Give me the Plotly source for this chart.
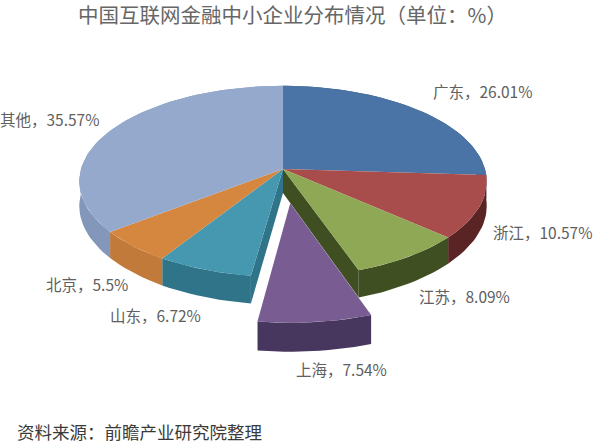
import math
import plotly.graph_objects as go

# Données
regions = ['广东', '浙江', '江苏', '上海', '山东', '北京', '其他']
parts = [26.01, 10.57, 8.09, 7.54, 6.72, 5.5, 35.57]
explose = '上海'

couleurs = ['#4b74a6', '#a94d4c', '#8fa855', '#785c92', '#4598af', '#d6873f', '#94a9cc']
couleurs_flanc = ['#35527a', '#5a2424', '#3f4f22', '#47375f', '#2f7488', '#c27a3b', '#8397ba']
pos_labels = [(483, 91), (543, 232), (464, 296), (341, 369), (155, 315), (87, 284), (50, 119)]

# Projection en perspective du disque (pixels de l'image)
CX, CY, RX, RY, K, EP = 283, 169, 202, 94, 0.13, 24
ECART = 0.35


def proj(x, y):
    s = 1 / (1 + K * y)
    return CX + RX * x * s, CY - RY * y * s, s


def contour(a0, a1, dx, dy):
    n = max(2, int((a1 - a0) / 2))
    pts = []
    for i in range(n + 1):
        a = math.radians(a0 + (a1 - a0) * i / n)
        pts.append(proj(math.sin(a) + dx, math.cos(a) + dy))
    return pts


def poly(fig, pts, couleur):
    xs = [p[0] for p in pts] + [pts[0][0]]
    ys = [p[1] for p in pts] + [pts[0][1]]
    fig.add_trace(go.Scatter(x=xs, y=ys, mode='lines', fill='toself', fillcolor=couleur,
                             line=dict(width=0, color=couleur), hoverinfo='skip', showlegend=False))


def bas(p):
    return (p[0], p[1] + EP * p[2], p[2])


fig = go.Figure()

# Calcul des secteurs à partir des valeurs
total = sum(parts)
secteurs = []
cumul = 0
for nom, val, c, cf in zip(regions, parts, couleurs, couleurs_flanc):
    a0 = cumul / total * 360
    cumul += val
    a1 = cumul / total * 360
    dx, dy = 0, 0
    if nom == explose:
        mid = math.radians((a0 + a1) / 2)
        dx, dy = ECART * math.sin(mid), ECART * math.cos(mid)
    secteurs.append(dict(nom=nom, a0=a0, a1=a1, dx=dx, dy=dy, c=c, cf=cf))

# 1. flancs extérieurs
for s in secteurs:
    if s['nom'] == explose:
        continue
    pts = contour(s['a0'], s['a1'], 0, 0)
    poly(fig, pts + [bas(p) for p in reversed(pts)], s['cf'])

# 2. faces coupées à côté du secteur détaché
idx = regions.index(explose)
for voisin, angle in [(secteurs[idx - 1], secteurs[idx]['a0']), (secteurs[idx + 1], secteurs[idx]['a1'])]:
    centre = proj(0, 0)
    a = math.radians(angle)
    rim = proj(math.sin(a), math.cos(a))
    poly(fig, [centre, rim, bas(rim), bas(centre)], voisin['cf'])

# 3. faces du dessus, le secteur détaché en dernier
for s in sorted(secteurs, key=lambda s: s['nom'] == explose):
    if s['nom'] == explose:
        pts = contour(s['a0'], s['a1'], s['dx'], s['dy'])
        poly(fig, pts + [bas(p) for p in reversed(pts)], s['cf'])
    else:
        pts = contour(s['a0'], s['a1'], 0, 0)
    poly(fig, [proj(s['dx'], s['dy'])] + pts, s['c'])

police = 'Noto Sans CJK SC'
annotations = [
    dict(x=292, y=14, text='中国互联网金融中小企业分布情况（单位：%）',
         font=dict(family=police, size=20.5, color='#666666')),
    dict(x=15, y=431, xanchor='left', text='资料来源：前瞻产业研究院整理',
         font=dict(family=police, size=17.5, color='#3a3a3a')),
]
for nom, val, pos in zip(regions, parts, pos_labels):
    annotations.append(dict(x=pos[0], y=pos[1], text=f'{nom}，{val}%',
                            font=dict(family=police, size=15.5, color='#606060')))
for a in annotations:
    a.update(xref='x', yref='y', showarrow=False)

fig.update_layout(width=600, height=444, margin=dict(l=0, r=0, t=0, b=0),
                  paper_bgcolor='white', plot_bgcolor='white', annotations=annotations,
                  xaxis=dict(range=[0, 600], visible=False),
                  yaxis=dict(range=[444, 0], visible=False))
# La page ne doit pas ajouter de marge autour du graphique
fig.write_html('out.html', post_script="document.body.style.margin='0';",
               config={'displayModeBar': False})
